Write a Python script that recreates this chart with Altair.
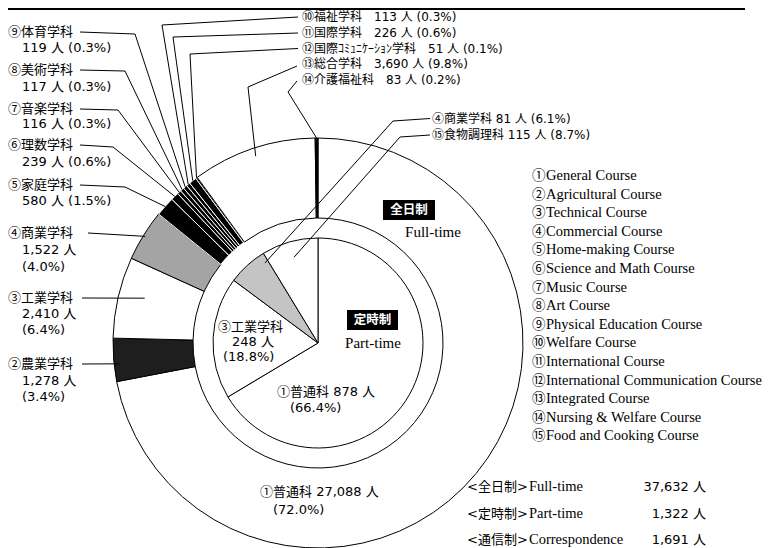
import altair as alt
import pandas as pd
import numpy as np

# ---------------- data ----------------
CIRC = "①②③④⑤⑥⑦⑧⑨⑩⑪⑫⑬⑭⑮"

# Full-time (全日制) courses, clockwise from 12 o'clock
ft_ids = [1, 2, 3, 4, 5, 6, 7, 8, 9, 10, 11, 12, 13, 14]
ft_names = ["普通科", "農業学科", "工業学科", "商業学科", "家庭学科", "理数学科", "音楽学科",
            "美術学科", "体育学科", "福祉学科", "国際学科", "国際ｺﾐｭﾆｹｰｼｮﾝ学科", "総合学科", "介護福祉科"]
ft_counts = [27088, 1278, 2410, 1522, 580, 239, 116, 117, 119, 113, 226, 51, 3690, 83]
ft_pcts = ["72.0", "3.4", "6.4", "4.0", "1.5", "0.6", "0.3", "0.3", "0.3", "0.3", "0.6", "0.1", "9.8", "0.2"]

# Part-time (定時制) courses, clockwise from 12 o'clock
pt_ids = [1, 3, 4, 15]
pt_names = ["普通科", "工業学科", "商業学科", "食物調理科"]
pt_counts = [878, 248, 81, 115]
pt_pcts = ["66.4", "18.8", "6.1", "8.7"]

legend_en = ["General Course", "Agricultural Course", "Technical Course", "Commercial Course",
             "Home-making Course", "Science and Math Course", "Music Course", "Art Course",
             "Physical Education Course", "Welfare Course", "International Course",
             "International Communication Course", "Integrated Course",
             "Nursing & Welfare Course", "Food and Cooking Course"]

total_jp = ["<全日制>", "<定時制>", "<通信制>"]
total_en = ["Full-time", "Part-time", "Correspondence"]
total_counts = [37632, 1322, 1691]

ring_jp = ["全日制", "定時制"]
ring_en = ["Full-time", "Part-time"]

# ---------------- layout ----------------
W, H = 760, 540
CX, CY = 318, 343
R_OUT, R_IN, R_PT = 205, 125, 105
XS = alt.Scale(domain=[8, 8 + W], nice=False, zero=False)
YS = alt.Scale(domain=[8, 8 + H], nice=False, zero=False, reverse=True)
JP = "DejaVu Sans, Noto Sans CJK JP"
JPK = "Noto Sans CJK JP"
SERIF = "Liberation Serif, Noto Serif CJK JP, Noto Sans CJK JP"
FS = 13      # main label size
FS_TOP = 12  # stacked labels at the top

fill_dom = [f"f{i}" for i in ft_ids] + [f"p{i}" for i in pt_ids]
fill_rng = ["#ffffff", "#1e1e1e", "#ffffff", "#a4a4a4"] + ["#000000"] * 8 + ["#ffffff", "#000000"] + \
           ["#ffffff", "#ffffff", "#c4c4c4", "#ffffff"]
stroke_rng = ["#000000"] * 4 + ["#ffffff"] * 8 + ["#000000"] * 2 + ["#000000"] * 4
FILL = alt.Scale(domain=fill_dom, range=fill_rng)
STROKE = alt.Scale(domain=fill_dom, range=stroke_rng)


def pos():
    return dict(x=alt.X("x:Q", scale=XS, axis=None), y=alt.Y("y:Q", scale=YS, axis=None))


def arc_layer(ids, counts, prefix, r1, r2=None):
    df = pd.DataFrame({"idx": range(len(ids)), "key": [f"{prefix}{i}" for i in ids], "value": counts})
    kw = dict(radius=r1, strokeWidth=1)
    if r2 is not None:
        kw["radius2"] = r2
    return alt.Chart(df).mark_arc(**kw).encode(
        theta=alt.Theta("value:Q", stack=True),
        order=alt.Order("idx:Q", sort="ascending"),
        fill=alt.Fill("key:N", scale=FILL, legend=None),
        stroke=alt.Stroke("key:N", scale=STROKE, legend=None),
        x=alt.XDatum(CX, type="quantitative", scale=XS, axis=None),
        y=alt.YDatum(CY, type="quantitative", scale=YS, axis=None),
    )


ft_arc = arc_layer(ft_ids, ft_counts, "f", R_OUT, R_IN)
pt_arc = arc_layer(pt_ids, pt_counts, "p", R_PT)


def slice_point(ids, counts, sid, frac, r):
    k = ids.index(sid)
    c = np.concatenate([[0], np.cumsum(counts)])
    a = 2 * np.pi * (c[k] + frac * counts[k]) / c[-1]
    return CX + r * np.sin(a), CY - r * np.cos(a)


TOP_Y = {10: 17, 11: 33, 12: 48.5, 13: 64, 14: 80}
PT_Y = {4: 118.5, 15: 135}

# leader lines: (ring, slice id, fraction in slice, radius, label-side points)
leader_defs = [
    ("ft", 9, 0.5, R_OUT, [(80, 32), (135, 34)]),
    ("ft", 8, 0.5, R_OUT, [(80, 70), (125, 71)]),
    ("ft", 7, 0.5, R_OUT, [(80, 109), (118, 110)]),
    ("ft", 6, 0.5, R_OUT, [(80, 145), (113, 147)]),
    ("ft", 5, 0.5, R_OUT, [(80, 185), (125, 187)]),
    ("ft", 4, 0.5, 203, [(88, 233)]),
    ("ft", 3, 0.57, 179, [(82, 298)]),
    ("ft", 2, 0.4, 200, [(82, 364)]),
    ("ft", 10, 0.5, R_OUT, [(298, TOP_Y[10]), (162, 25)]),
    ("ft", 11, 0.5, R_OUT, [(298, TOP_Y[11]), (173, 37)]),
    ("ft", 12, 0.5, R_OUT, [(298, TOP_Y[12]), (190, 54)]),
    ("ft", 13, 0.5, 197, [(297, TOP_Y[13] + 2), (248, 87)]),
    ("ft", 14, 0.5, R_OUT, [(297, TOP_Y[14] + 1), (288, 92)]),
    ("pt", 4, 0.9, 96, [(430, PT_Y[4]), (393, 121)]),
    ("pt", 15, 0.5, 89, [(430, PT_Y[15]), (400, 137)]),
]
lrows = []
for lid, (ring, sid, frac, r, pts) in enumerate(leader_defs):
    ids, counts = (ft_ids, ft_counts) if ring == "ft" else (pt_ids, pt_counts)
    allpts = pts + [slice_point(ids, counts, sid, frac, r)]
    for s, (px, py) in enumerate(allpts):
        lrows.append({"lid": lid, "seq": s, "x": px, "y": py})
leaders = alt.Chart(pd.DataFrame(lrows)).mark_line(color="black", strokeWidth=1).encode(
    detail="lid:N", order=alt.Order("seq:Q"), **pos())

# top border rule
top_rule = alt.Chart(pd.DataFrame({"x": [8], "x2": [745], "y": [9]})).mark_rule(
    color="black", strokeWidth=2).encode(x=alt.X("x:Q", scale=XS, axis=None), x2="x2:Q",
                                         y=alt.Y("y:Q", scale=YS, axis=None))

# black label boxes
boxes = alt.Chart(pd.DataFrame({"x": [383, 347], "x2": [435, 398], "y": [200, 310], "y2": [220, 330]})).mark_rect(
    color="black").encode(x=alt.X("x:Q", scale=XS, axis=None), x2="x2:Q",
                          y=alt.Y("y:Q", scale=YS, axis=None), y2="y2:Q")


def text_layer(rows, font, size, align="left", color="black", weight="normal"):
    df = pd.DataFrame(rows, columns=["x", "y", "t"])
    return alt.Chart(df).mark_text(font=font, fontSize=size, align=align, baseline="middle",
                                   color=color, fontWeight=weight).encode(text="t:N", **pos())


ft = {i: (n, c, p) for i, n, c, p in zip(ft_ids, ft_names, ft_counts, ft_pcts)}
pt = {i: (n, c, p) for i, n, c, p in zip(pt_ids, pt_names, pt_counts, pt_pcts)}

jp_rows, circ_rows = [], []      # main size
jp_small, circ_small = [], []    # top stacked labels


def labelled(x, y, num, rest, size=FS, small=False):
    (circ_small if small else circ_rows).append((x, y, CIRC[num - 1]))
    (jp_small if small else jp_rows).append((x + size, y, rest))


for i, (y1, y2) in {9: (32, 48), 8: (70, 87), 7: (109, 124), 6: (145, 162), 5: (185, 201)}.items():
    n, c, p = ft[i]
    labelled(8, y1, i, n)
    jp_rows.append((22, y2, f"{c:,} 人 ({p}%)"))
for i, (y1, y2, y3) in {4: (233, 250, 267), 3: (298, 314, 330), 2: (364, 381, 397)}.items():
    n, c, p = ft[i]
    labelled(8, y1, i, n)
    jp_rows.append((22, y2, f"{c:,} 人"))
    jp_rows.append((22, y3, f"({p}%)"))
for i, y in TOP_Y.items():
    n, c, p = ft[i]
    labelled(302, y, i, f"{n}\u2003{c:,} 人 ({p}%)", size=FS_TOP, small=True)
for i, y in PT_Y.items():
    n, c, p = pt[i]
    labelled(432, y, i, f"{n} {c:,} 人 ({p}%)", size=FS_TOP, small=True)
n, c, p = pt[3]
labelled(218, 327, 3, n)
jp_rows += [(232, 342, f"{c:,} 人"), (223, 357, f"({p}%)")]
n, c, p = pt[1]
labelled(277, 392, 1, f"{n} {c:,} 人")
jp_rows.append((290, 408, f"({p}%)"))
n, c, p = ft[1]
labelled(260, 492, 1, f"{n} {c:,} 人")
jp_rows.append((273, 510, f"({p}%)"))
tot_y = [487, 514, 540]
for j in range(3):
    jp_rows.append((467, tot_y[j], total_jp[j]))

jp_text = text_layer(jp_rows, JP, FS)
circ_text = text_layer(circ_rows, JPK, FS)
jp_small_text = text_layer(jp_small, JP, FS_TOP)
circ_small_text = text_layer(circ_small, JPK, FS_TOP)
num_text = text_layer([(706, tot_y[j], f"{total_counts[j]:,} 人") for j in range(3)], JP, FS, align="right")

LX, LS = 532, 14
legend_circ = text_layer([(LX, 176 + 18.6 * k, CIRC[k]) for k in range(15)], JPK, 13.5)
legend_text = text_layer([(LX + LS, 176 + 18.6 * k, legend_en[k]) for k in range(15)], SERIF, 14.5)
tot_en_text = text_layer([(529, tot_y[j], total_en[j]) for j in range(3)], SERIF, 14.5)

box_text = text_layer([(409, 210, ring_jp[0]), (372.5, 320, ring_jp[1])], JPK, 12.5, align="center",
                      color="white", weight="bold")
ring_en_text = text_layer([(433, 232, ring_en[0]), (373, 343, ring_en[1])], SERIF, 15, align="center")

chart = alt.layer(
    top_rule, ft_arc, pt_arc, leaders, boxes, jp_text, circ_text, jp_small_text, circ_small_text,
    num_text, legend_circ, legend_text, tot_en_text, box_text, ring_en_text
).resolve_scale(theta="independent").properties(
    width=W, height=H, padding=0, autosize=alt.AutoSizeParams(type="none"), background="white"
).configure_view(stroke=None)

chart.save("out.html", embed_options={"renderer": "svg", "actions": False})
